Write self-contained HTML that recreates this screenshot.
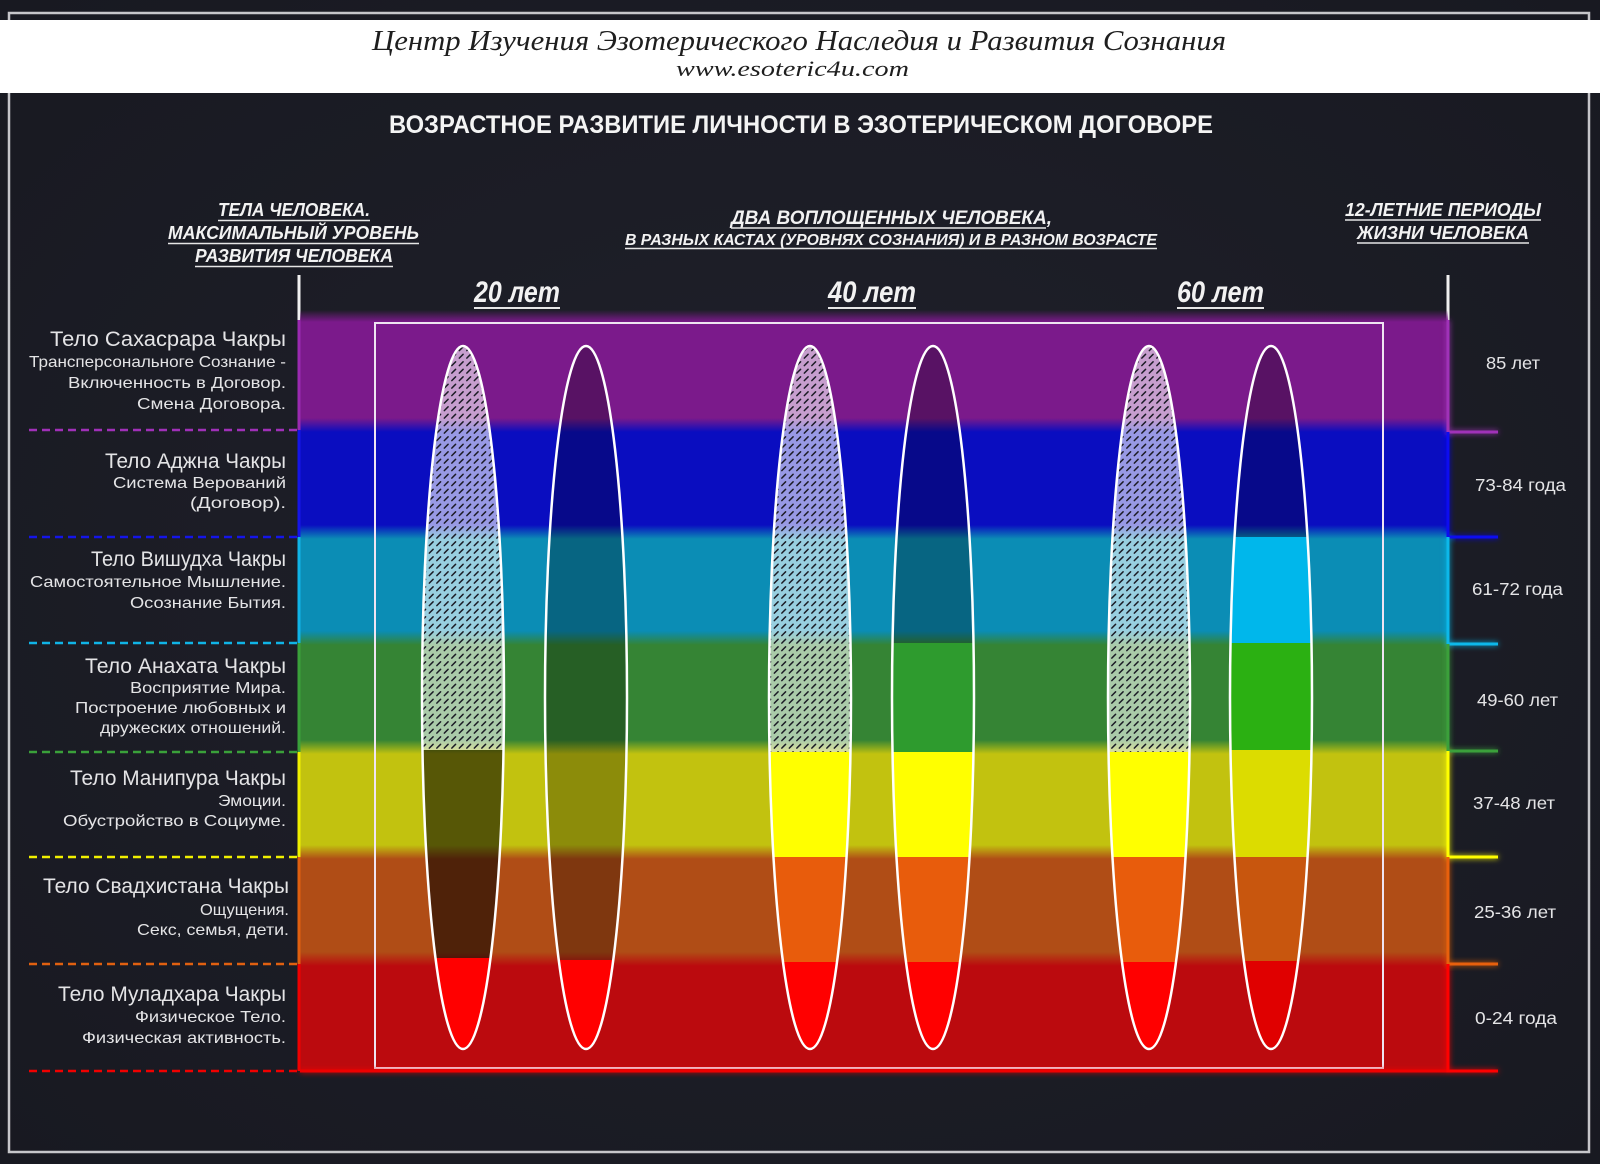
<!DOCTYPE html>
<html>
<head>
<meta charset="utf-8">
<style>
  html, body { margin: 0; padding: 0; background: #1c1d27; }
  svg { display: block; }
  .lbl { font-family: "Liberation Sans", "DejaVu Sans", sans-serif; fill: #e4e4e6; }
  .hdr { font-family: "Liberation Sans Narrow", "Liberation Sans", sans-serif; font-weight: bold; font-style: italic; fill: #f2f2f2; }
</style>
</head>
<body>
<svg width="1600" height="1164" viewBox="0 0 1600 1164" xmlns="http://www.w3.org/2000/svg">
  <defs>
    <radialGradient id="bg" cx="50%" cy="50%" r="70%">
      <stop offset="0" stop-color="#20212b"/>
      <stop offset="1" stop-color="#181921"/>
    </radialGradient>
    <linearGradient id="bands" gradientUnits="userSpaceOnUse" x1="0" y1="310" x2="0" y2="1075">
      <stop offset="0" stop-color="#7b1a8b" stop-opacity="0"/>
      <stop offset="0.0157" stop-color="#7b1a8b"/>
      <stop offset="0.1412" stop-color="#7b1a8b"/>
      <stop offset="0.1595" stop-color="#0a0dc0"/>
      <stop offset="0.2810" stop-color="#0a0dc0"/>
      <stop offset="0.2993" stop-color="#0b8db5"/>
      <stop offset="0.4196" stop-color="#0b8db5"/>
      <stop offset="0.4379" stop-color="#358434"/>
      <stop offset="0.5621" stop-color="#358434"/>
      <stop offset="0.5804" stop-color="#c2c20f"/>
      <stop offset="0.6993" stop-color="#c2c20f"/>
      <stop offset="0.7176" stop-color="#b04d16"/>
      <stop offset="0.8392" stop-color="#b04d16"/>
      <stop offset="0.8575" stop-color="#bb0a0e"/>
      <stop offset="1" stop-color="#bb0a0e"/>
    </linearGradient>
    <pattern id="hatch" width="7.5" height="7.5" patternUnits="userSpaceOnUse">
      <line x1="1.8" y1="5.6" x2="5.6" y2="1.8" stroke="#1c1c26" stroke-width="1.5" stroke-linecap="round"/>
    </pattern>
    <filter id="glow" x="-50%" y="-5%" width="200%" height="110%">
      <feGaussianBlur stdDeviation="3" result="b"/>
      <feMerge><feMergeNode in="b"/><feMergeNode in="SourceGraphic"/></feMerge>
    </filter>
    <clipPath id="c1"><ellipse cx="463" cy="697.5" rx="41" ry="351.5"/></clipPath>
    <clipPath id="c2"><ellipse cx="586" cy="697.5" rx="41" ry="351.5"/></clipPath>
    <clipPath id="c3"><ellipse cx="810" cy="697.5" rx="41" ry="351.5"/></clipPath>
    <clipPath id="c4"><ellipse cx="933" cy="697.5" rx="41" ry="351.5"/></clipPath>
    <clipPath id="c5"><ellipse cx="1149" cy="697.5" rx="41" ry="351.5"/></clipPath>
    <clipPath id="c6"><ellipse cx="1271" cy="697.5" rx="41" ry="351.5"/></clipPath>
  </defs>

  <rect x="0" y="0" width="1600" height="1164" fill="url(#bg)"/>
  <rect x="9" y="13" width="1580" height="1139" fill="none" stroke="#c6c6ca" stroke-width="2.5"/>

  <rect x="0" y="20" width="1600" height="73" fill="#ffffff"/>
  <text x="372" y="50" textLength="854" lengthAdjust="spacingAndGlyphs" font-family="Liberation Serif, serif" font-style="italic" font-size="28" fill="#1e1e1e">Центр Изучения Эзотерического Наследия и Развития Сознания</text>
  <text x="676" y="76" textLength="233" lengthAdjust="spacingAndGlyphs" font-family="Liberation Serif, serif" font-style="italic" font-size="22" fill="#1e1e1e">www.esoteric4u.com</text>

  <text x="389" y="133" textLength="824" lengthAdjust="spacingAndGlyphs" font-family="Liberation Sans Narrow, Liberation Sans, sans-serif" font-weight="bold" font-size="25" fill="#f4f4f4">ВОЗРАСТНОЕ РАЗВИТИЕ ЛИЧНОСТИ В ЭЗОТЕРИЧЕСКОМ ДОГОВОРЕ</text>

  <g class="hdr" font-size="18">
    <text x="218" y="216" textLength="152" lengthAdjust="spacingAndGlyphs">ТЕЛА ЧЕЛОВЕКА.</text>
    <text x="168" y="239" textLength="251" lengthAdjust="spacingAndGlyphs">МАКСИМАЛЬНЫЙ УРОВЕНЬ</text>
    <text x="195" y="262" textLength="198" lengthAdjust="spacingAndGlyphs">РАЗВИТИЯ ЧЕЛОВЕКА</text>
    <text x="731" y="224" textLength="321" lengthAdjust="spacingAndGlyphs" font-size="19">ДВА ВОПЛОЩЕННЫХ ЧЕЛОВЕКА,</text>
    <text x="625" y="245" textLength="532" lengthAdjust="spacingAndGlyphs" font-size="16">В РАЗНЫХ КАСТАХ (УРОВНЯХ СОЗНАНИЯ) И В РАЗНОМ ВОЗРАСТЕ</text>
    <text x="1345" y="216" textLength="196" lengthAdjust="spacingAndGlyphs">12-ЛЕТНИЕ ПЕРИОДЫ</text>
    <text x="1357" y="239" textLength="172" lengthAdjust="spacingAndGlyphs">ЖИЗНИ ЧЕЛОВЕКА</text>
  </g>
  <g stroke="#e6e6e6" stroke-width="1.6">
    <line x1="218" y1="220.5" x2="370" y2="220.5"/>
    <line x1="168" y1="243.5" x2="419" y2="243.5"/>
    <line x1="195" y1="266.5" x2="393" y2="266.5"/>
    <line x1="731" y1="228" x2="1046" y2="228"/>
    <line x1="625" y1="248.5" x2="1157" y2="248.5"/>
    <line x1="1345" y1="220" x2="1541" y2="220"/>
    <line x1="1357" y1="243" x2="1529" y2="243"/>
  </g>

  <g class="hdr" font-size="30">
    <text x="474" y="302" textLength="86" lengthAdjust="spacingAndGlyphs">20 лет</text>
    <text x="828" y="302" textLength="88" lengthAdjust="spacingAndGlyphs">40 лет</text>
    <text x="1177" y="302" textLength="87" lengthAdjust="spacingAndGlyphs">60 лет</text>
  </g>
  <g stroke="#e6e6e6" stroke-width="2">
    <line x1="474" y1="308" x2="560" y2="308"/>
    <line x1="828" y1="308" x2="916" y2="308"/>
    <line x1="1177" y1="308" x2="1264" y2="308"/>
  </g>

  <line x1="299" y1="275" x2="299" y2="320" stroke="#f0f0f0" stroke-width="3"/>
  <line x1="1448" y1="275" x2="1448" y2="320" stroke="#f0f0f0" stroke-width="3"/>

  <rect x="300" y="310" width="1148" height="761" fill="url(#bands)"/>

  <rect x="375" y="323" width="1008" height="745" fill="none" stroke="#efe4f2" stroke-width="2"/>

  <g clip-path="url(#c1)">
    <rect x="420" y="340" width="90" height="410" fill="#ffffff" fill-opacity="0.58"/>
    <rect x="420" y="340" width="90" height="410" fill="url(#hatch)"/>
    <rect x="420" y="750" width="90" height="208" fill="#000" fill-opacity="0.55"/>
    <rect x="420" y="958" width="90" height="100" fill="#ff0000"/>
  </g>
  <g clip-path="url(#c2)">
    <rect x="540" y="340" width="90" height="620" fill="#000" fill-opacity="0.28"/>
    <rect x="540" y="960" width="90" height="100" fill="#ff0000"/>
  </g>
  <g clip-path="url(#c3)">
    <rect x="765" y="340" width="90" height="412" fill="#ffffff" fill-opacity="0.58"/>
    <rect x="765" y="340" width="90" height="412" fill="url(#hatch)"/>
    <rect x="765" y="752" width="90" height="105" fill="#ffff00"/>
    <rect x="765" y="857" width="90" height="105" fill="#e85c0c"/>
    <rect x="765" y="962" width="90" height="100" fill="#ff0000"/>
  </g>
  <g clip-path="url(#c4)">
    <rect x="888" y="340" width="90" height="303" fill="#000" fill-opacity="0.28"/>
    <rect x="888" y="643" width="90" height="109" fill="#2e9b2e"/>
    <rect x="888" y="752" width="90" height="105" fill="#ffff00"/>
    <rect x="888" y="857" width="90" height="105" fill="#e85c0c"/>
    <rect x="888" y="962" width="90" height="100" fill="#ff0000"/>
  </g>
  <g clip-path="url(#c5)">
    <rect x="1104" y="340" width="90" height="412" fill="#ffffff" fill-opacity="0.58"/>
    <rect x="1104" y="340" width="90" height="412" fill="url(#hatch)"/>
    <rect x="1104" y="752" width="90" height="105" fill="#ffff00"/>
    <rect x="1104" y="857" width="90" height="105" fill="#e85c0c"/>
    <rect x="1104" y="962" width="90" height="100" fill="#ff0000"/>
  </g>
  <g clip-path="url(#c6)">
    <rect x="1226" y="340" width="90" height="197" fill="#000" fill-opacity="0.28"/>
    <rect x="1226" y="537" width="90" height="106" fill="#00b7eb"/>
    <rect x="1226" y="643" width="90" height="107" fill="#2bb012"/>
    <rect x="1226" y="750" width="90" height="107" fill="#dcdc00"/>
    <rect x="1226" y="857" width="90" height="104" fill="#c8560e"/>
    <rect x="1226" y="961" width="90" height="100" fill="#e00000"/>
  </g>

  <g fill="none" stroke="#ffffff" stroke-width="2.5">
    <ellipse cx="463" cy="697.5" rx="41" ry="351.5"/>
    <ellipse cx="586" cy="697.5" rx="41" ry="351.5"/>
    <ellipse cx="810" cy="697.5" rx="41" ry="351.5"/>
    <ellipse cx="933" cy="697.5" rx="41" ry="351.5"/>
    <ellipse cx="1149" cy="697.5" rx="41" ry="351.5"/>
    <ellipse cx="1271" cy="697.5" rx="41" ry="351.5"/>
  </g>

  <g stroke-width="3">
    <line x1="299" y1="320" x2="299" y2="430" stroke="#9a2ab0"/>
    <line x1="299" y1="430" x2="299" y2="537" stroke="#1515e8"/>
    <line x1="299" y1="537" x2="299" y2="643" stroke="#10b4e6"/>
    <line x1="299" y1="643" x2="299" y2="752" stroke="#3aa03a"/>
    <line x1="299" y1="752" x2="299" y2="857" stroke="#f0f000"/>
    <line x1="299" y1="857" x2="299" y2="964" stroke="#e06010"/>
    <line x1="299" y1="964" x2="299" y2="1071" stroke="#f00000"/>
  </g>

  <g stroke-width="2.5" stroke-dasharray="8 5">
    <line x1="29" y1="430" x2="299" y2="430" stroke="#a030b8"/>
    <line x1="29" y1="537" x2="299" y2="537" stroke="#1515e8"/>
    <line x1="29" y1="643" x2="299" y2="643" stroke="#10b4e6"/>
    <line x1="29" y1="752" x2="299" y2="752" stroke="#3aa03a"/>
    <line x1="29" y1="857" x2="299" y2="857" stroke="#f0f000"/>
    <line x1="29" y1="964" x2="299" y2="964" stroke="#e06010"/>
    <line x1="29" y1="1071" x2="299" y2="1071" stroke="#f00000"/>
  </g>

  <g stroke-width="3" filter="url(#glow)">
    <line x1="300" y1="1071" x2="1448" y2="1071" stroke="#f00000"/>
    <polyline points="1448,320 1448,432 1498,432" fill="none" stroke="#a030b8"/>
    <polyline points="1448,432 1448,537 1498,537" fill="none" stroke="#1010f0"/>
    <polyline points="1448,537 1448,644 1498,644" fill="none" stroke="#10b8ea"/>
    <polyline points="1448,644 1448,751 1498,751" fill="none" stroke="#3aa03a"/>
    <polyline points="1448,751 1448,857 1498,857" fill="none" stroke="#ffff00"/>
    <polyline points="1448,857 1448,964 1498,964" fill="none" stroke="#e86010"/>
    <polyline points="1448,964 1448,1071 1498,1071" fill="none" stroke="#ff0000"/>
  </g>

  <g class="lbl">
    <text x="50" y="346" font-size="21" textLength="236" lengthAdjust="spacingAndGlyphs">Тело Сахасрара Чакры</text>
    <text x="29" y="367" font-size="16" textLength="257" lengthAdjust="spacingAndGlyphs">Трансперсональноге Сознание -</text>
    <text x="68" y="388" font-size="16" textLength="218" lengthAdjust="spacingAndGlyphs">Включенность в Договор.</text>
    <text x="137" y="409" font-size="16" textLength="149" lengthAdjust="spacingAndGlyphs">Смена Договора.</text>

    <text x="105" y="468" font-size="21" textLength="181" lengthAdjust="spacingAndGlyphs">Тело Аджна Чакры</text>
    <text x="113" y="488" font-size="16" textLength="173" lengthAdjust="spacingAndGlyphs">Система Верований</text>
    <text x="190" y="508" font-size="16" textLength="96" lengthAdjust="spacingAndGlyphs">(Договор).</text>

    <text x="91" y="566" font-size="21" textLength="195" lengthAdjust="spacingAndGlyphs">Тело Вишудха Чакры</text>
    <text x="30" y="587" font-size="16" textLength="256" lengthAdjust="spacingAndGlyphs">Самостоятельное Мышление.</text>
    <text x="130" y="608" font-size="16" textLength="156" lengthAdjust="spacingAndGlyphs">Осознание Бытия.</text>

    <text x="85" y="673" font-size="21" textLength="201" lengthAdjust="spacingAndGlyphs">Тело Анахата Чакры</text>
    <text x="130" y="693" font-size="16" textLength="156" lengthAdjust="spacingAndGlyphs">Восприятие Мира.</text>
    <text x="75" y="713" font-size="16" textLength="211" lengthAdjust="spacingAndGlyphs">Построение любовных и</text>
    <text x="100" y="733" font-size="16" textLength="186" lengthAdjust="spacingAndGlyphs">дружеских отношений.</text>

    <text x="70" y="785" font-size="21" textLength="216" lengthAdjust="spacingAndGlyphs">Тело Манипура Чакры</text>
    <text x="218" y="806" font-size="16" textLength="68" lengthAdjust="spacingAndGlyphs">Эмоции.</text>
    <text x="63" y="826" font-size="16" textLength="223" lengthAdjust="spacingAndGlyphs">Обустройство в Социуме.</text>

    <text x="43" y="893" font-size="21" textLength="246" lengthAdjust="spacingAndGlyphs">Тело Свадхистана Чакры</text>
    <text x="200" y="915" font-size="16" textLength="89" lengthAdjust="spacingAndGlyphs">Ощущения.</text>
    <text x="137" y="935" font-size="16" textLength="152" lengthAdjust="spacingAndGlyphs">Секс, семья, дети.</text>

    <text x="58" y="1001" font-size="21" textLength="228" lengthAdjust="spacingAndGlyphs">Тело Муладхара Чакры</text>
    <text x="135" y="1022" font-size="16" textLength="151" lengthAdjust="spacingAndGlyphs">Физическое Тело.</text>
    <text x="82" y="1043" font-size="16" textLength="204" lengthAdjust="spacingAndGlyphs">Физическая активность.</text>
  </g>

  <g class="lbl" font-size="17.5">
    <text x="1486" y="369" textLength="54" lengthAdjust="spacingAndGlyphs">85 лет</text>
    <text x="1475" y="491" textLength="91" lengthAdjust="spacingAndGlyphs">73-84 года</text>
    <text x="1472" y="595" textLength="91" lengthAdjust="spacingAndGlyphs">61-72 года</text>
    <text x="1477" y="706" textLength="81" lengthAdjust="spacingAndGlyphs">49-60 лет</text>
    <text x="1473" y="809" textLength="82" lengthAdjust="spacingAndGlyphs">37-48 лет</text>
    <text x="1474" y="918" textLength="82" lengthAdjust="spacingAndGlyphs">25-36 лет</text>
    <text x="1475" y="1024" textLength="82" lengthAdjust="spacingAndGlyphs">0-24 года</text>
  </g>
</svg>
</body>
</html>
